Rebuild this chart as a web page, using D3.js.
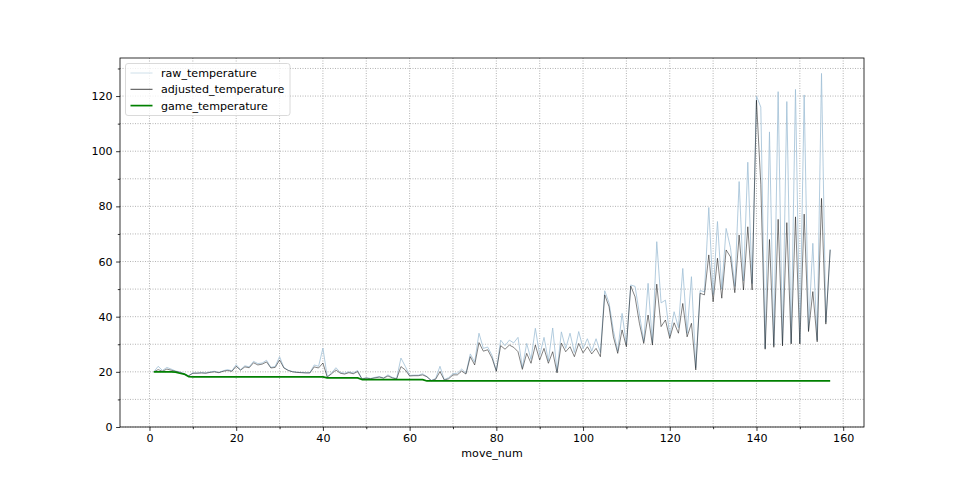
<!DOCTYPE html>
<html><head><meta charset="utf-8">
<script src="https://cdn.jsdelivr.net/npm/d3@7"></script>
<style>body{margin:0;background:#fff}svg{display:block}text{font-family:"DejaVu Sans",sans-serif}</style>
</head><body><svg id="c" width="960" height="480"></svg>
<script>
const rawTemperature = [
20,22,20.5,21.6,21,20.3,20,19.4,18.6,19.6,
19.6,19.7,19.6,20,20.2,19.8,20.4,20.8,20.4,22.6,
20.8,22.2,21.8,23.8,23,23.2,24.2,21.6,22,25.5,
21.6,20.6,20.1,19.9,19.8,19.7,19.7,22.5,22,28.6,
18.3,19.6,21.5,19.8,19.5,20,19.6,20.5,17.5,17.9,
17.6,18,18.3,17.8,18.9,18,17.6,25,22,18.7,
18.8,18.8,19.3,18.3,16.9,17.6,22,17.2,17.9,19.3,
19.5,21,19.5,26.5,23.5,34,28.5,29,26,20.4,
31.5,29.5,31.5,30.5,32.5,21.5,30.3,24.5,35.8,26,
32.5,24,35.9,20,34.5,28.5,34,27,34.6,28.5,
32,27.5,32,27,49.4,45,35,27.5,41.2,30,
51.5,51,41,31,52.1,30.5,67.2,45,46,33,
41.8,36,57.5,34,54.5,21.5,49.5,49,79.6,48,
74.5,50,72,65,51,89,53,96,52,120,
116,28.5,107,29.5,121.6,30,118,30.5,122.4,30.5,
120.4,35,66.6,31.5,128.2,38,64.5];
const adjustedTemperature = [
20,20.8,20.2,21,20.6,20.2,19.8,19.2,18.5,19.5,
19.5,19.6,19.5,19.8,20,19.7,20.2,20.5,20.2,22,
20.6,21.8,21.5,23.3,22.5,22.8,23.6,21.4,21.6,24.3,
21.4,20.5,20,19.8,19.7,19.6,19.6,21.8,21.4,23.2,
18.1,19.3,20.7,19.5,19.2,19.7,19.3,20.1,17.4,17.7,
17.5,17.8,18.1,17.7,18.5,17.8,17.4,21.9,20.7,18.5,
18.6,18.6,18.9,18.2,16.8,17.3,20.1,17,17.5,18.9,
18.9,20.3,19.2,25.5,22.5,30.6,27.5,28,25,20.2,
29.5,28.2,29.7,28.9,27.3,20.9,26.7,23.1,29.7,24.3,
28.5,23.1,27.3,19.6,30.4,27.3,29.1,25.5,30.3,26.9,
29.1,26.5,28.5,25.5,47.9,43.6,32.7,26.7,35.2,29.1,
51.1,47.2,37.6,30.3,40.6,29.7,51.8,36.4,38.8,32.2,
37.8,34,44.8,32.7,37.6,20.7,48.5,47.9,62.4,45.4,
61.2,46.7,64.2,61.7,48.7,69.6,49.7,72.6,49.7,118.5,
88,28.2,68,28.9,75.3,29.4,74.1,30.1,76.2,30.1,
77.2,34.6,49.1,30.9,82.9,37.3,64.2];
const gameTemperature = [
20,20,20,20,20,19.9,19.5,19.2,18.3,18.2,
18.2,18.2,18.2,18.2,18.2,18.2,18.2,18.2,18.2,18.2,
18.2,18.2,18.2,18.2,18.2,18.2,18.2,18.2,18.2,18.2,
18.2,18.2,18.2,18.2,18.2,18.2,18.2,18.2,18.2,18.2,
17.8,17.8,17.8,17.8,17.8,17.8,17.8,17.8,17.2,17.2,
17.2,17.2,17.2,17.2,17.2,17.2,17.2,17.2,17.2,17.2,
17.2,17.2,17.2,16.7,16.7,16.7,16.7,16.7,16.7,16.7,
16.7,16.7,16.7,16.7,16.7,16.7,16.7,16.7,16.7,16.7,
16.7,16.7,16.7,16.7,16.7,16.7,16.7,16.7,16.7,16.7,
16.7,16.7,16.7,16.7,16.7,16.7,16.7,16.7,16.7,16.7,
16.7,16.7,16.7,16.7,16.7,16.7,16.7,16.7,16.7,16.7,
16.7,16.7,16.7,16.7,16.7,16.7,16.7,16.7,16.7,16.7,
16.7,16.7,16.7,16.7,16.7,16.7,16.7,16.7,16.7,16.7,
16.7,16.7,16.7,16.7,16.7,16.7,16.7,16.7,16.7,16.7,
16.7,16.7,16.7,16.7,16.7,16.7,16.7,16.7,16.7,16.7,
16.7,16.7,16.7,16.7,16.7,16.7,16.7];
const moveNum = d3.range(1, rawTemperature.length + 1);
const xTicks = [0,20,40,60,80,100,120,140,160];
const xMinor = [10,30,50,70,90,110,130,150];
const yTicks = [0,20,40,60,80,100,120];
const yMinor = [10,30,50,70,90,110,130];
const seriesNames = ["raw_temperature","adjusted_temperature","game_temperature"];
const seriesColors = ["#9fbfd6","#000000","#008000"];
const legendColors = ["#c9dce8","#333333","#008000"];
const seriesWidths = [0.8,0.55,1.7];
const seriesOpacity = [1,0.9,1];

const svg = d3.select("#c");
const L=120,R=864,T=58,B=427;
const x = d3.scaleLinear().domain([-6.8,164.8]).range([L,R]);
const y = d3.scaleLinear().domain([0,133.8]).range([B,T]);
const fs = 11.1;

// grid
const grid = svg.append("g").attr("stroke","#a0a0a0").attr("stroke-width",0.8).attr("stroke-dasharray","1,1.5");
xTicks.concat(xMinor).forEach(v=>grid.append("line").attr("x1",x(v)).attr("x2",x(v)).attr("y1",T).attr("y2",B));
yTicks.concat(yMinor).forEach(v=>grid.append("line").attr("y1",y(v)).attr("y2",y(v)).attr("x1",L).attr("x2",R));

svg.append("clipPath").attr("id","cp").append("rect").attr("x",L).attr("y",T).attr("width",R-L).attr("height",B-T);
const plot = svg.append("g").attr("clip-path","url(#cp)");
const data = [rawTemperature, adjustedTemperature, gameTemperature];
data.forEach((arr,i)=>{
  const line = d3.line().x((d,j)=>x(moveNum[j])).y(d=>y(d));
  plot.append("path").attr("d",line(arr)).attr("fill","none")
    .attr("stroke",seriesColors[i]).attr("stroke-width",seriesWidths[i])
    .attr("stroke-opacity",seriesOpacity[i]).attr("stroke-linejoin","round");
});

// axes
svg.append("g").attr("transform",`translate(0,${B})`)
  .call(d3.axisBottom(x).tickValues(xTicks).tickSize(3.9).tickPadding(3.5).tickFormat(d3.format("d")));
svg.append("g").attr("transform",`translate(0,${B})`)
  .call(d3.axisBottom(x).tickValues(xMinor).tickSize(2.2).tickFormat(""));
svg.append("g").attr("transform",`translate(${L},0)`)
  .call(d3.axisLeft(y).tickValues(yTicks).tickSize(3.9).tickPadding(3.5).tickFormat(d3.format("d")));
svg.append("g").attr("transform",`translate(${L},0)`)
  .call(d3.axisLeft(y).tickValues(yMinor).tickSize(2.2).tickFormat(""));
svg.selectAll(".domain").remove();
svg.selectAll(".tick line").attr("stroke","#000").attr("stroke-width",0.8);
svg.selectAll(".tick text").attr("font-size",fs).attr("fill","#000").attr("font-family","DejaVu Sans");
svg.append("rect").attr("x",L).attr("y",T).attr("width",R-L).attr("height",B-T)
  .attr("fill","none").attr("stroke","#000").attr("stroke-width",0.8);

svg.append("text").attr("x",(L+R)/2).attr("y",457).attr("text-anchor","middle")
  .attr("font-size",fs).text("move_num");

// legend
const lg = svg.append("g");
lg.append("rect").attr("x",125.5).attr("y",63.5).attr("width",164.5).attr("height",52).attr("rx",2.5)
  .attr("fill","#fff").attr("fill-opacity",0.8).attr("stroke","#d0d0d0").attr("stroke-width",0.8);
seriesNames.forEach((n,i)=>{
  const yy = 73 + i*16.3;
  lg.append("line").attr("x1",130.5).attr("x2",152.5).attr("y1",yy).attr("y2",yy)
    .attr("stroke",legendColors[i]).attr("stroke-width",i===2?1.7:0.9);
  lg.append("text").attr("x",161).attr("y",yy+4).attr("font-size",fs).text(n);
});
</script></body></html>
